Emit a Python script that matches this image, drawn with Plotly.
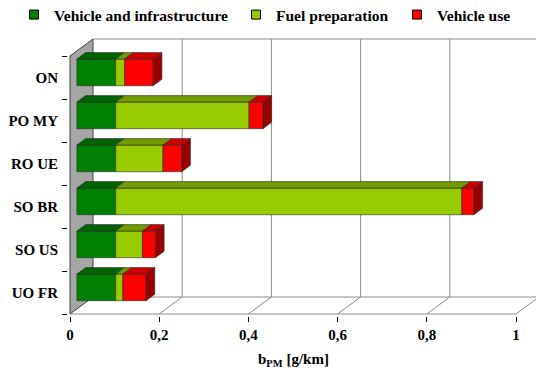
import plotly.graph_objects as go

# ---- data ----
categories = ["ON", "PO MY", "RO UE", "SO BR", "SO US", "UO FR"]
vehicle_infra = [0.087, 0.087, 0.087, 0.087, 0.087, 0.087]
fuel_prep = [0.020, 0.299, 0.106, 0.776, 0.060, 0.016]
vehicle_use = [0.064, 0.031, 0.042, 0.027, 0.029, 0.052]
series_names = ["Vehicle and infrastructure", "Fuel preparation", "Vehicle use"]
x_tickvals = [0, 0.2, 0.4, 0.6, 0.8, 1.0]
x_ticktext = ["0", "0,2", "0,4", "0,6", "0,8", "1"]

# ---- styling / 3D projection ----
front_cols = ["#008000", "#99cc00", "#ff0000"]
top_cols = ["#006400", "#739a00", "#cc0000"]
side_col = "#990000"
edge = "#2b2b2b"
grid = "#8c8c8c"
FONT = "Liberation Serif"
legend_widths = [177, 116, 80]

DX = 23 / 446.0       # depth offset in value units
DY = 17 / 43.0        # depth offset in category units
F0 = 0.30             # bar front plane depth fraction
FD = 0.38             # bar depth fraction
W = 0.62              # bar thickness

ypos = list(range(len(categories)))
series = [vehicle_infra, fuel_prep, vehicle_use]

fig = go.Figure()

# walls / floor as shapes below traces
shapes = []
y_top, y_bot = -0.5, len(categories) - 0.5
shapes.append(dict(type="path", xref="x", yref="y", layer="below",
                   path=f"M 0,{y_bot} L 0,{y_top} L {DX},{y_top-DY} L {DX},{y_bot-DY} Z",
                   fillcolor="#a6a6a6", line=dict(color="#404040", width=1)))
shapes.append(dict(type="line", xref="x", yref="y", layer="below",
                   x0=DX, y0=y_top - DY, x1=1 + DX, y1=y_top - DY,
                   line=dict(color=grid, width=1)))
shapes.append(dict(type="line", xref="x", yref="y", layer="below",
                   x0=0, y0=y_bot, x1=1, y1=y_bot, line=dict(color=grid, width=1)))
shapes.append(dict(type="line", xref="x", yref="y", layer="below",
                   x0=DX, y0=y_bot - DY, x1=1 + DX, y1=y_bot - DY,
                   line=dict(color=grid, width=1)))
for v in x_tickvals[1:]:
    shapes.append(dict(type="line", xref="x", yref="y", layer="below",
                       x0=v + DX, y0=y_top - DY, x1=v + DX, y1=y_bot - DY,
                       line=dict(color=grid, width=1)))
    shapes.append(dict(type="line", xref="x", yref="y", layer="below",
                       x0=v, y0=y_bot, x1=v + DX, y1=y_bot - DY,
                       line=dict(color=grid, width=1)))

# front faces as bars
a = F0 * DX
yshift = F0 * DY
cum = [0.0] * len(categories)
starts = []
for k, vals in enumerate(series):
    starts.append(list(cum))
    fig.add_trace(go.Bar(
        y=[p - yshift for p in ypos], x=vals, base=[c + a for c in cum],
        orientation="h", width=W, marker=dict(color=front_cols[k], line=dict(color=edge, width=0.6)),
        showlegend=False, hoverinfo="skip"))
    cum = [c + v for c, v in zip(cum, vals)]

# top faces
b, c = FD * DX, FD * DY
for k, vals in enumerate(series):
    xs, ys = [], []
    for i, p in enumerate(ypos):
        s = starts[k][i] + a
        e = s + vals[i]
        yt = p - yshift - W / 2
        xs += [s, e, e + b, s + b, s, None]
        ys += [yt, yt, yt - c, yt - c, yt, None]
    fig.add_trace(go.Scatter(x=xs, y=ys, mode="lines", fill="toself", fillcolor=top_cols[k],
                             line=dict(color=edge, width=0.6), showlegend=False, hoverinfo="skip"))
# side faces (end of stack)
xs, ys = [], []
for i, p in enumerate(ypos):
    e = cum[i] + a
    yt = p - yshift - W / 2
    xs += [e, e, e + b, e + b, e, None]
    ys += [yt, yt + W, yt + W - c, yt - c, yt, None]
fig.add_trace(go.Scatter(x=xs, y=ys, mode="lines", fill="toself", fillcolor=side_col,
                         line=dict(color=edge, width=0.6), showlegend=False, hoverinfo="skip"))

# legend entries
for k, nm in enumerate(series_names):
    fig.add_trace(go.Scatter(x=[None], y=[None], mode="markers", name=nm,
                             legendwidth=legend_widths[k],
                             marker=dict(symbol="square", size=9, color=front_cols[k],
                                         line=dict(color="black", width=1))))

x0 = -2 / 446.0
x1 = 466 / 446.0
fig.update_layout(
    width=536, height=371, autosize=False,
    margin=dict(l=68, r=0, t=32, b=55, autoexpand=False),
    paper_bgcolor="white", plot_bgcolor="rgba(0,0,0,0)",
    shapes=shapes,
    barmode="overlay",
    font=dict(family=FONT, size=15, color="black"),
    xaxis=dict(range=[x0, x1], showgrid=False, zeroline=False, showline=False, automargin=False,
               tickmode="array", tickvals=x_tickvals, ticktext=x_ticktext,
               ticks="outside", ticklen=5, tickcolor="black",
               tickfont=dict(family=FONT, size=15, color="black", weight="bold")),
    yaxis=dict(range=[-1.0581 + 284 / 43.0, -1.0581], showgrid=False, zeroline=False,
               showline=False, automargin=False, tickmode="array", tickvals=ypos, ticktext=categories,
               ticks="", ticklabelstandoff=9,
               minor=dict(tickmode="array", tickvals=[p - 0.5 for p in ypos] + [y_bot],
                          ticks="outside", ticklen=5, tickcolor="black"),
               tickfont=dict(family=FONT, size=15, color="black", weight="bold")),
    legend=dict(orientation="h", x=-54 / 468.0, xanchor="left", y=1 + 17 / 284.0, yanchor="middle",
                font=dict(family=FONT, size=15.5, color="black", weight="bold"),
                itemwidth=30, tracegroupgap=0, bgcolor="rgba(0,0,0,0)"),
    annotations=[dict(text="<b>b<sub>PM</sub> [g/km]</b>", xref="x", yref="paper",
                      x=0.5, y=0, yshift=-44, xanchor="center", yanchor="middle",
                      showarrow=False, font=dict(family=FONT, size=15, color="black"))],
)

fig.write_html("out.html", config={"displayModeBar": False},
               post_script="document.body.style.margin='0';document.body.style.overflow='hidden';")
